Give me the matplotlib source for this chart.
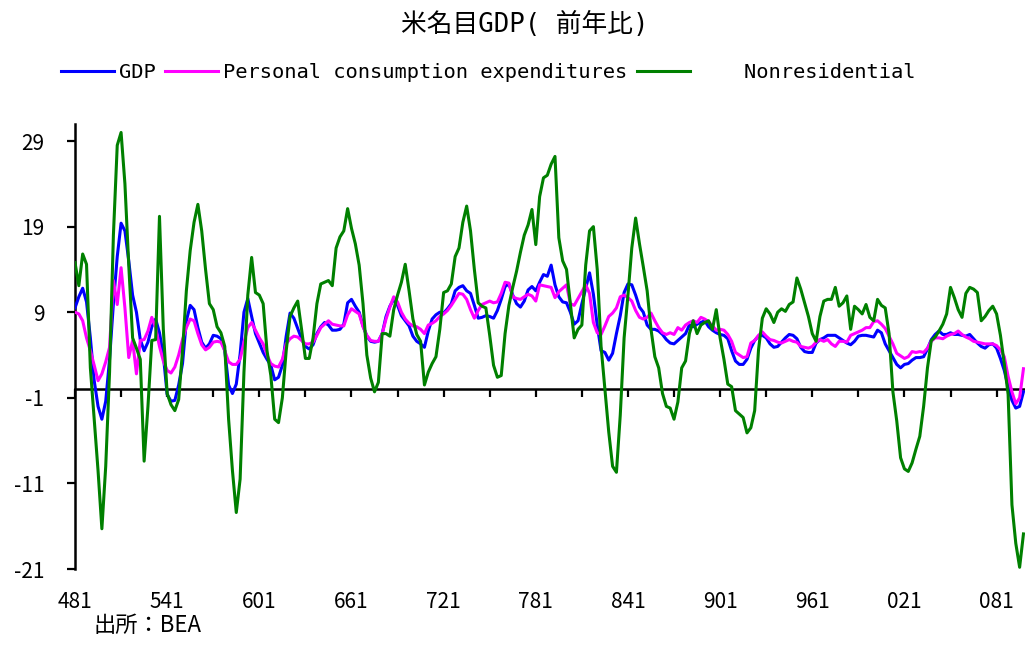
import numpy as np
import matplotlib
matplotlib.use("Agg")
import matplotlib.pyplot as plt

plt.rcParams['font.family'] = ['Noto Sans CJK JP', 'DejaVu Sans']
plt.rcParams['axes.unicode_minus'] = False

# CONST VALUES #
FIRST_YEAR = 1948
LAST_YEAR = 2009
Y_TICKS = [-21, -11, -1, 9, 19, 29]
MONO = ['DejaVu Sans Mono', 'Noto Sans CJK JP']

# quarterly labels, e.g. 1948Q1 -> "481", 2002Q1 -> "021"
quarter_labels = [f"{y % 100:02d}{q}" for y in range(FIRST_YEAR, LAST_YEAR + 1) for q in range(1, 5)]

# 名目GDP 前年比 (%)
gdp = [
    9.5, 10.8, 11.8, 10.2,    # 1948
    6.0, 1.0, -2.0, -3.5,     # 1949
    -1.4, 3.5, 10.0, 15.5,    # 1950
    19.4, 18.5, 15.0, 11.0,   # 1951
    9.0, 5.8, 4.5, 5.5,       # 1952
    7.3, 8.2, 6.6, 4.0,       # 1953
    -0.6, -1.4, -1.3, 0.5,    # 1954
    3.0, 8.0, 9.8, 9.3,       # 1955
    7.2, 5.5, 4.8, 5.3,       # 1956
    6.3, 6.2, 5.9, 4.5,       # 1957
    0.5, -0.5, 0.6, 4.1,      # 1958
    9.0, 10.6, 8.5, 6.5,      # 1959
    5.4, 4.3, 3.5, 2.8,       # 1960
    1.1, 1.4, 2.8, 6.2,       # 1961
    8.9, 8.3, 7.1, 5.9,       # 1962
    5.0, 4.7, 5.2, 6.5,       # 1963
    7.3, 7.8, 7.5, 6.9,       # 1964
    6.9, 7.0, 7.6, 10.1,      # 1965
    10.5, 9.7, 9.0, 7.4,      # 1966
    6.2, 5.6, 5.5, 5.6,       # 1967
    6.5, 8.5, 9.7, 10.5,      # 1968
    9.8, 8.6, 8.0, 7.4,       # 1969
    6.2, 5.6, 5.3, 4.9,       # 1970
    6.8, 8.2, 8.7, 9.0,       # 1971
    8.9, 9.4, 10.0, 11.5,     # 1972
    11.9, 12.1, 11.5, 11.2,   # 1973
    9.8, 8.3, 8.4, 8.6,       # 1974
    8.5, 8.3, 9.2, 10.5,      # 1975
    12.0, 12.3, 11.0, 10.0,   # 1976
    9.6, 10.3, 11.6, 12.0,    # 1977
    11.5, 12.5, 13.4, 13.2,   # 1978
    14.5, 12.2, 10.8, 10.2,   # 1979
    10.1, 9.0, 7.6, 8.0,      # 1980
    10.0, 11.8, 13.6, 11.1,   # 1981
    7.5, 4.5, 4.3, 3.4,       # 1982
    4.2, 6.5, 8.6, 11.3,      # 1983
    12.3, 12.2, 11.0, 9.6,    # 1984
    9.0, 7.5, 7.0, 7.0,       # 1985
    6.8, 6.4, 5.8, 5.4,       # 1986
    5.3, 5.7, 6.1, 6.5,       # 1987
    7.5, 7.3, 7.6, 7.8,       # 1988
    8.0, 7.3, 6.9, 6.6,       # 1989
    6.4, 6.3, 5.9, 4.5,       # 1990
    3.3, 2.9, 2.9, 3.5,       # 1991
    4.8, 5.7, 6.2, 6.3,       # 1992
    6.0, 5.3, 4.9, 5.0,       # 1993
    5.5, 6.0, 6.4, 6.3,       # 1994
    5.9, 4.9, 4.4, 4.3,       # 1995
    4.3, 5.4, 5.8, 6.0,       # 1996
    6.3, 6.3, 6.3, 6.0,       # 1997
    5.7, 5.4, 5.2, 5.6,       # 1998
    6.2, 6.3, 6.3, 6.2,       # 1999
    6.1, 6.9, 6.6, 5.3,       # 2000
    4.5, 3.7, 2.9, 2.5,       # 2001
    2.9, 3.0, 3.4, 3.7,       # 2002
    3.7, 3.8, 4.7, 5.8,       # 2003
    6.4, 6.8, 6.4, 6.4,       # 2004
    6.6, 6.4, 6.4, 6.3,       # 2005
    6.2, 6.4, 5.9, 5.4,       # 2006
    5.0, 4.8, 5.2, 5.3,       # 2007
    4.8, 3.6, 2.2, 0.3,       # 2008
    -1.3, -2.2, -2.0, -0.3,   # 2009
]

# 個人消費支出 前年比 (%)
pce = [
    9.0, 8.8, 8.0, 6.0,       # 1948
    4.5, 2.8, 1.0, 1.8,       # 1949
    3.2, 4.9, 12.7, 9.9,      # 1950
    14.2, 9.5, 3.7, 5.7,      # 1951
    1.8, 5.7, 5.8, 6.8,       # 1952
    8.4, 7.2, 5.0, 3.3,       # 1953
    2.2, 1.9, 2.6, 4.0,       # 1954
    5.8, 7.2, 8.2, 8.0,       # 1955
    6.5, 5.2, 4.6, 4.9,       # 1956
    5.5, 5.6, 5.5, 4.5,       # 1957
    3.2, 2.9, 2.9, 3.5,       # 1958
    5.5, 7.2, 7.8, 6.9,       # 1959
    6.0, 5.3, 4.0, 3.0,       # 1960
    2.7, 2.6, 3.5, 5.3,       # 1961
    5.9, 6.2, 6.1, 5.7,       # 1962
    5.3, 5.3, 5.5, 6.3,       # 1963
    7.2, 7.6, 8.0, 7.6,       # 1964
    7.5, 7.4, 7.4, 8.7,       # 1965
    9.4, 9.1, 8.8, 7.3,       # 1966
    6.3, 5.7, 5.6, 5.6,       # 1967
    6.5, 8.2, 9.6, 10.8,      # 1968
    10.2, 9.0, 8.2, 7.7,      # 1969
    7.4, 7.3, 7.0, 6.5,       # 1970
    7.5, 7.7, 8.0, 8.5,       # 1971
    8.8, 9.2, 9.8, 10.5,      # 1972
    11.2, 11.1, 10.5, 9.3,    # 1973
    8.3, 9.2, 9.9, 10.1,      # 1974
    10.3, 10.1, 10.2, 11.2,   # 1975
    12.5, 12.4, 10.8, 10.6,   # 1976
    10.5, 10.8, 11.1, 10.9,   # 1977
    10.3, 12.2, 12.1, 12.0,   # 1978
    11.9, 10.7, 11.4, 11.8,   # 1979
    12.2, 10.0, 9.8, 10.6,    # 1980
    11.4, 12.2, 11.2, 7.8,    # 1981
    6.6, 6.4, 7.4, 8.5,       # 1982
    8.9, 9.5, 10.8, 11.0,     # 1983
    10.7, 10.3, 9.2, 8.4,     # 1984
    8.2, 8.4, 8.9, 8.0,       # 1985
    7.2, 6.6, 6.4, 6.6,       # 1986
    6.4, 7.2, 6.9, 7.5,       # 1987
    7.8, 8.0, 7.8, 8.4,       # 1988
    8.2, 7.9, 7.4, 6.9,       # 1989
    7.0, 6.9, 6.4, 5.6,       # 1990
    4.3, 4.0, 3.7, 3.8,       # 1991
    5.4, 5.7, 6.3, 6.7,       # 1992
    6.2, 5.8, 5.7, 5.5,       # 1993
    5.4, 5.6, 5.8, 5.6,       # 1994
    5.5, 5.0, 4.9, 4.8,       # 1995
    5.0, 5.5, 5.8, 5.6,       # 1996
    5.8, 5.3, 5.0, 5.6,       # 1997
    5.6, 5.5, 6.3, 6.5,       # 1998
    6.7, 6.9, 7.2, 7.2,       # 1999
    7.9, 8.0, 7.6, 7.1,       # 2000
    6.2, 5.3, 4.2, 3.9,       # 2001
    3.6, 3.8, 4.4, 4.3,       # 2002
    4.4, 4.3, 4.8, 5.6,       # 2003
    6.0, 6.0, 5.9, 6.2,       # 2004
    6.4, 6.5, 6.8, 6.4,       # 2005
    6.1, 5.9, 5.6, 5.5,       # 2006
    5.4, 5.3, 5.3, 5.3,       # 2007
    5.1, 4.6, 3.8, 1.5,       # 2008
    -0.3, -1.7, -1.0, 2.4,    # 2009
]

# 非住宅投資 前年比 (%)
nonres = [
    14.8, 12.1, 15.8, 14.6,   # 1948
    2.5, -3.5, -9.5, -16.3,   # 1949
    -9.0, 2.0, 18.0, 28.5,    # 1950
    30.0, 24.0, 14.5, 6.0,    # 1951
    4.8, 3.5, -8.4, -2.0,     # 1952
    5.7, 5.8, 20.2, 7.0,      # 1953
    -0.5, -1.8, -2.5, -1.2,   # 1954
    4.5, 11.5, 16.2, 19.5,    # 1955
    21.6, 18.5, 14.0, 10.0,   # 1956
    9.3, 7.3, 6.6, 5.0,       # 1957
    -3.5, -9.5, -14.4, -10.5, # 1958
    2.0, 11.0, 15.4, 11.3,    # 1959
    11.0, 10.0, 4.5, 1.6,     # 1960
    -3.5, -3.9, -1.0, 4.5,    # 1961
    8.5, 9.5, 10.3, 7.0,      # 1962
    3.6, 3.6, 6.0, 10.0,      # 1963
    12.3, 12.5, 12.7, 12.1,   # 1964
    16.5, 17.8, 18.5, 21.1,   # 1965
    18.8, 17.0, 14.5, 10.0,   # 1966
    4.0, 1.3, -0.3, 0.8,      # 1967
    6.5, 6.5, 6.2, 9.3,       # 1968
    11.0, 12.5, 14.6, 11.5,   # 1969
    8.2, 6.4, 5.6, 0.5,       # 1970
    2.0, 3.0, 3.8, 7.0,       # 1971
    11.3, 11.5, 12.3, 15.5,   # 1972
    16.5, 19.5, 21.4, 18.5,   # 1973
    14.0, 10.1, 9.7, 9.5,     # 1974
    6.3, 2.8, 1.4, 1.6,       # 1975
    6.5, 9.8, 11.9, 13.8,     # 1976
    16.0, 18.0, 19.2, 21.0,   # 1977
    16.9, 22.5, 24.7, 25.0,   # 1978
    26.3, 27.2, 17.7, 15.0,   # 1979
    14.0, 10.0, 6.0, 7.0,     # 1980
    7.5, 14.5, 18.5, 19.0,    # 1981
    14.0, 5.0, 0.0, -5.0,     # 1982
    -9.0, -9.7, -3.0, 6.0,    # 1983
    11.0, 16.5, 20.0, 17.0,   # 1984
    14.3, 11.5, 7.0, 3.8,     # 1985
    2.5, -0.5, -2.0, -2.2,    # 1986
    -3.5, -1.5, 2.5, 3.3,     # 1987
    6.5, 8.0, 6.5, 7.5,       # 1988
    7.8, 8.0, 7.0, 9.3,       # 1989
    6.0, 3.5, 0.6, 0.3,       # 1990
    -2.5, -2.9, -3.3, -5.1,   # 1991
    -4.5, -2.5, 4.6, 8.3,     # 1992
    9.4, 8.8, 7.8, 9.0,       # 1993
    9.4, 9.1, 9.9, 10.2,      # 1994
    13.0, 11.7, 10.1, 8.5,    # 1995
    6.5, 5.6, 8.5, 10.3,      # 1996
    10.5, 10.5, 11.9, 9.7,    # 1997
    10.1, 10.9, 7.0, 9.7,     # 1998
    9.3, 8.8, 9.9, 8.4,       # 1999
    8.0, 10.5, 9.8, 9.5,      # 2000
    6.5, -0.3, -3.7, -8.0,    # 2001
    -9.3, -9.6, -8.6, -7.0,   # 2002
    -5.5, -2.0, 2.5, 5.7,     # 2003
    6.1, 6.8, 7.6, 8.8,       # 2004
    11.9, 10.7, 9.3, 8.4,     # 2005
    11.2, 11.9, 11.7, 11.3,   # 2006
    8.0, 8.5, 9.2, 9.7,       # 2007
    8.8, 6.3, 3.0, -0.6,      # 2008
    -13.5, -18.0, -20.8, -16.9,  # 2009
]

x = np.arange(len(quarter_labels))

fig = plt.figure(figsize=(10.25, 6.58), dpi=100)
ax = fig.add_axes([75 / 1025, 89 / 658, 950 / 1025, 445.1 / 658])

ax.plot(x, gdp, color='#0000FF', lw=2.2, label='GDP', zorder=3)
ax.plot(x, pce, color='#FF00FF', lw=2.2, label='Personal consumption expenditures', zorder=4)
ax.plot(x, nonres, color='#008000', lw=2.2, label='    Nonresidential', zorder=5)

ax.set_xlim(0, 247.4)
ax.set_ylim(-21, 31)
ax.set_yticks(Y_TICKS)

ax.spines['top'].set_visible(False)
ax.spines['right'].set_visible(False)
ax.spines['left'].set_linewidth(1.8)
ax.spines['bottom'].set_position(('data', 0))
ax.spines['bottom'].set_linewidth(1.8)

# 目盛は12四半期ごと, ラベルは24四半期ごとに下端へ
ax.set_xticks(x[::12])
ax.tick_params(axis='x', direction='out', length=6, width=1.6, labelbottom=False)
ax.tick_params(axis='y', direction='out', length=6, width=1.6, pad=16, labelsize=15)
for q in x[::24]:
    ax.text(q, -0.075, quarter_labels[q], transform=ax.get_xaxis_transform(),
            ha='center', va='center', fontsize=15)

fig.text(525 / 1025, 1 - 25 / 658, '米名目GDP( 前年比)', ha='center', va='center',
         fontsize=18.5, family=MONO)
fig.legend(loc='center', bbox_to_anchor=(488 / 1025, 1 - 73 / 658), ncol=3, frameon=False,
           prop={'family': MONO, 'size': 14.7}, handlelength=2.6, handletextpad=0.25,
           columnspacing=0.45)
fig.text(93 / 1025, 1 - 625 / 658, '出所：BEA', ha='left', va='center', fontsize=16)

fig.savefig('out.png', dpi=100)
